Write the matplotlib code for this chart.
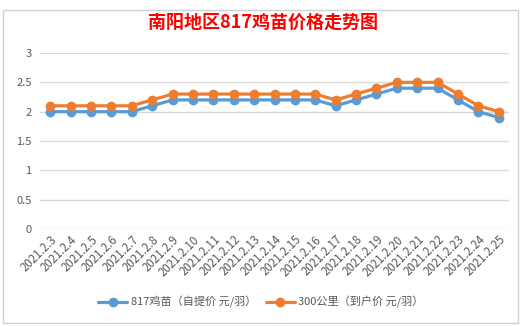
import matplotlib
matplotlib.use("Agg")
import matplotlib.pyplot as plt
from matplotlib.patches import Rectangle

plt.rcParams['font.family'] = ['Noto Sans CJK SC', 'DejaVu Sans']

dates = ["2021.2.3", "2021.2.4", "2021.2.5", "2021.2.6", "2021.2.7", "2021.2.8",
         "2021.2.9", "2021.2.10", "2021.2.11", "2021.2.12", "2021.2.13", "2021.2.14",
         "2021.2.15", "2021.2.16", "2021.2.17", "2021.2.18", "2021.2.19", "2021.2.20",
         "2021.2.21", "2021.2.22", "2021.2.23", "2021.2.24", "2021.2.25"]
self_pickup = [2.0, 2.0, 2.0, 2.0, 2.0, 2.1, 2.2, 2.2, 2.2, 2.2, 2.2, 2.2, 2.2, 2.2,
               2.1, 2.2, 2.3, 2.4, 2.4, 2.4, 2.2, 2.0, 1.9]
delivered = [2.1, 2.1, 2.1, 2.1, 2.1, 2.2, 2.3, 2.3, 2.3, 2.3, 2.3, 2.3, 2.3, 2.3,
             2.2, 2.3, 2.4, 2.5, 2.5, 2.5, 2.3, 2.1, 2.0]
series_names = ["817鸡苗（自提价 元/羽）", "300公里（到户价 元/羽）"]
yticks = [0, 0.5, 1, 1.5, 2, 2.5, 3]
ytick_labels = ["0", "0.5", "1", "1.5", "2", "2.5", "3"]

W, H = 528, 326
fig = plt.figure(figsize=(W / 100, H / 100), dpi=100)
fig.patch.set_facecolor("white")

# chart border
fig.patches.append(Rectangle((3 / W, 3 / H), (518 - 3) / W, (316 - 3) / H,
                             transform=fig.transFigure, fill=False,
                             edgecolor="#D0D0D0", linewidth=1))

ax = fig.add_axes([40 / W, 1 - 229 / H, (509 - 40) / W, (229 - 53) / H])
x = list(range(len(dates)))
ax.plot(x, self_pickup, color="#5B9BD5", linewidth=2.3, marker="o", markersize=6,
        label=series_names[0], solid_capstyle="round", zorder=3)
ax.plot(x, delivered, color="#ED7D31", linewidth=2.3, marker="o", markersize=6,
        label=series_names[1], solid_capstyle="round", zorder=3)

ax.set_xlim(-0.5, len(dates) - 0.5)
ax.set_ylim(0, 3)
ax.set_yticks(yticks)
ax.set_yticklabels(ytick_labels, fontsize=8, color="#595959")
ax.set_xticks(x)
ax.set_xticklabels(dates, fontsize=8.3, color="#595959", rotation=45,
                   ha="right", va="top", rotation_mode="anchor")
ax.tick_params(axis="y", length=0, pad=6)
ax.tick_params(axis="x", length=0, pad=3)
ax.yaxis.grid(True, color="#D9D9D9", linewidth=1)
ax.set_axisbelow(True)
for s in ax.spines.values():
    s.set_visible(False)

fig.text(263 / W, 1 - 22 / H, "南阳地区817鸡苗价格走势图", ha="center", va="center",
         fontsize=13, fontweight="bold", color="#FF0000")

leg = fig.legend(loc="center", bbox_to_anchor=(261 / W, 1 - 302 / H), ncol=2,
                 frameon=False, fontsize=8, handlelength=2.6, columnspacing=0.9,
                 handletextpad=0.3)
for t in leg.get_texts():
    t.set_color("#595959")

fig.savefig("out.png", dpi=100)
